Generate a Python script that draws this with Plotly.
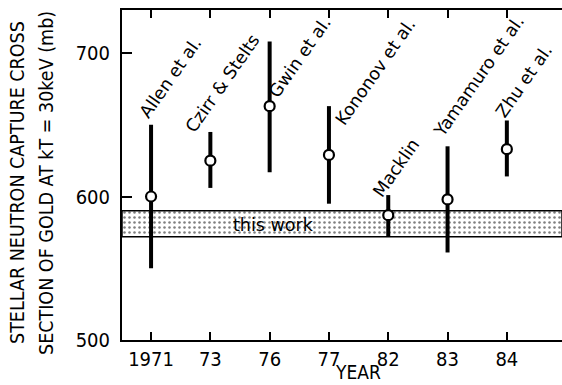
import plotly.graph_objects as go

# ---- data ----
years = ["1971", "73", "76", "77", "82", "83", "84"]
authors = ["Allen et al.", "Czirr & Stelts", "Gwin et al.", "Kononov et al.",
           "Macklin", "Yamamuro et al.", "Zhu et al."]
cross_section = [600, 625, 663, 629, 587, 598, 633]
err_plus = [50, 20, 45, 34, 14, 37, 20]
err_minus = [50, 19, 46, 34, 15, 37, 19]
this_work_low = 572
this_work_high = 590

# ---- layout helpers ----
NARROW = "Liberation Sans Narrow, Arial Narrow, DejaVu Sans Condensed, sans-serif"
WIDE = "DejaVu Sans, sans-serif"
xpos = list(range(len(years)))
x_range = [-0.49, 6.93]
y_range = [500, 730]
# label centres (x offset from category, y in data units)
label_dx = [0.32, 0.21, 0.51, 0.78, 0.13, 0.53, 0.29]
label_y = [682.6, 679.1, 697.2, 686.8, 619.9, 684.0, 680.5]

fig = go.Figure()

# "this work" band
fig.add_trace(go.Scatter(
    x=[x_range[0], x_range[1], x_range[1], x_range[0], x_range[0]],
    y=[this_work_low, this_work_low, this_work_high, this_work_high, this_work_low],
    mode="lines", fill="toself",
    fillcolor="white",
    fillpattern=dict(shape=".", fgcolor="black", bgcolor="white", size=5, solidity=0.2),
    line=dict(color="black", width=1.5),
    hoverinfo="skip", showlegend=False,
))

fig.add_trace(go.Scatter(
    x=xpos, y=cross_section, mode="markers",
    error_y=dict(type="data", symmetric=False, array=err_plus, arrayminus=err_minus,
                 thickness=4, width=0, color="black"),
    marker=dict(symbol="circle", size=10, color="white", line=dict(color="black", width=2.2)),
    showlegend=False,
))

for i, name in enumerate(authors):
    fig.add_annotation(x=xpos[i] + label_dx[i], y=label_y[i], text=name, showarrow=False,
                       textangle=-55, xanchor="center", yanchor="middle",
                       font=dict(family=WIDE, size=17.5, color="black"))

fig.add_annotation(x=2.07, y=(this_work_low + this_work_high) / 2 - 0.5, text="this work",
                   showarrow=False, xanchor="center", yanchor="middle",
                   font=dict(family=WIDE, size=17.5, color="black"))

# axis titles
fig.add_annotation(xref="paper", yref="paper", x=(358 - 122) / 440, y=-45 / 330, text="YEAR",
                   showarrow=False, xanchor="center", yanchor="bottom",
                   font=dict(family=NARROW, size=19, color="black"))
fig.add_annotation(xref="paper", yref="paper", x=-(122 - 18) / 440, y=(340 - 183) / 330,
                   text="STELLAR NEUTRON CAPTURE CROSS", showarrow=False, textangle=-90,
                   xanchor="center", yanchor="middle",
                   font=dict(family=NARROW, size=19.5, color="black"))
fig.add_annotation(xref="paper", yref="paper", x=-(122 - 47) / 440, y=(340 - 183) / 330,
                   text="SECTION OF GOLD AT kT = 30keV (mb)", showarrow=False, textangle=-90,
                   xanchor="center", yanchor="middle",
                   font=dict(family=NARROW, size=19.5, color="black"))

fig.update_layout(
    width=562, height=385,
    margin=dict(l=122, r=0, t=10, b=45),
    paper_bgcolor="white", plot_bgcolor="white",
    xaxis=dict(range=x_range, tickmode="array", tickvals=xpos, ticktext=years,
               ticks="inside", ticklen=8, tickwidth=2, tickcolor="black",
               showline=True, linewidth=2, linecolor="black", mirror="ticks",
               showgrid=False, zeroline=False,
               tickfont=dict(family=NARROW, size=20, color="black")),
    yaxis=dict(range=y_range, tickmode="array", tickvals=[500, 600, 700],
               ticks="inside", ticklen=10, tickwidth=2, tickcolor="black",
               showline=True, linewidth=2, linecolor="black",
               showgrid=False, zeroline=False, ticklabelstandoff=6,
               tickfont=dict(family=NARROW, size=20, color="black")),
)

fig.write_html("out.html")
